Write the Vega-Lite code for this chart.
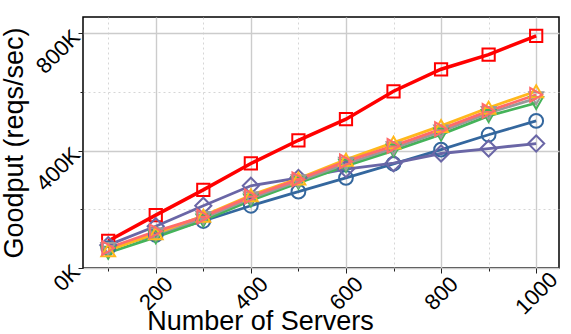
{
  "$schema": "https://vega.github.io/schema/vega-lite/v6.json",
  "width": 476,
  "height": 251,
  "autosize": {"type": "none"},
  "padding": {"left": 83, "top": 17, "right": 12, "bottom": 66},
  "background": "white",
  "config": {
    "font": "Liberation Sans",
    "view": {"stroke": "black", "strokeWidth": 1.5}
  },
  "data": {"values": [
    {"s": "A", "x": 100, "y": 92000}, {"s": "A", "x": 200, "y": 180000}, {"s": "A", "x": 300, "y": 266000}, {"s": "A", "x": 400, "y": 356000}, {"s": "A", "x": 500, "y": 435000},
    {"s": "A", "x": 600, "y": 507000}, {"s": "A", "x": 700, "y": 602000}, {"s": "A", "x": 800, "y": 677000}, {"s": "A", "x": 900, "y": 727000}, {"s": "A", "x": 1000, "y": 791000},
    {"s": "B", "x": 100, "y": 68000}, {"s": "B", "x": 200, "y": 113000}, {"s": "B", "x": 300, "y": 160000}, {"s": "B", "x": 400, "y": 212000}, {"s": "B", "x": 500, "y": 260000},
    {"s": "B", "x": 600, "y": 307000}, {"s": "B", "x": 700, "y": 355000}, {"s": "B", "x": 800, "y": 403000}, {"s": "B", "x": 900, "y": 454000}, {"s": "B", "x": 1000, "y": 501000},
    {"s": "C", "x": 100, "y": 78000}, {"s": "C", "x": 200, "y": 142000}, {"s": "C", "x": 300, "y": 212000}, {"s": "C", "x": 400, "y": 280000}, {"s": "C", "x": 500, "y": 307000},
    {"s": "C", "x": 600, "y": 337000}, {"s": "C", "x": 700, "y": 357000}, {"s": "C", "x": 800, "y": 390000}, {"s": "C", "x": 900, "y": 407000}, {"s": "C", "x": 1000, "y": 424000},
    {"s": "D", "x": 100, "y": 52000}, {"s": "D", "x": 200, "y": 105000}, {"s": "D", "x": 300, "y": 162000}, {"s": "D", "x": 400, "y": 230000}, {"s": "D", "x": 500, "y": 290000},
    {"s": "D", "x": 600, "y": 348000}, {"s": "D", "x": 700, "y": 400000}, {"s": "D", "x": 800, "y": 455000}, {"s": "D", "x": 900, "y": 518000}, {"s": "D", "x": 1000, "y": 562000},
    {"s": "E", "x": 100, "y": 65000}, {"s": "E", "x": 200, "y": 115000}, {"s": "E", "x": 300, "y": 170000}, {"s": "E", "x": 400, "y": 238000}, {"s": "E", "x": 500, "y": 296000},
    {"s": "E", "x": 600, "y": 355000}, {"s": "E", "x": 700, "y": 408000}, {"s": "E", "x": 800, "y": 465000}, {"s": "E", "x": 900, "y": 528000}, {"s": "E", "x": 1000, "y": 578000},
    {"s": "F", "x": 100, "y": 60000}, {"s": "F", "x": 200, "y": 118000}, {"s": "F", "x": 300, "y": 178000}, {"s": "F", "x": 400, "y": 248000}, {"s": "F", "x": 500, "y": 305000},
    {"s": "F", "x": 600, "y": 369000}, {"s": "F", "x": 700, "y": 427000}, {"s": "F", "x": 800, "y": 484000}, {"s": "F", "x": 900, "y": 546000}, {"s": "F", "x": 1000, "y": 602000},
    {"s": "G", "x": 100, "y": 68000}, {"s": "G", "x": 200, "y": 125000}, {"s": "G", "x": 300, "y": 175000}, {"s": "G", "x": 400, "y": 244000}, {"s": "G", "x": 500, "y": 302000},
    {"s": "G", "x": 600, "y": 363000}, {"s": "G", "x": 700, "y": 416000}, {"s": "G", "x": 800, "y": 473000}, {"s": "G", "x": 900, "y": 535000}, {"s": "G", "x": 1000, "y": 590000}
  ]},
  "encoding": {
    "x": {
      "field": "x", "type": "quantitative",
      "scale": {"domain": [47, 1048], "nice": false, "zero": false},
      "axis": {
        "title": "Number of Servers",
        "titleFontSize": 27, "titleFontWeight": "normal", "titleColor": "black",
        "titleX": 177, "titleAlign": "center", "titleAnchor": null,
        "titleY": 61, "titleBaseline": "alphabetic",
        "values": [100, 200, 300, 400, 500, 600, 700, 800, 900, 1000],
        "format": "d",
        "labelExpr": "datum.value % 200 === 0 ? datum.label : ''",
        "labelFontSize": 22, "labelColor": "black", "labelAngle": -45,
        "labelAlign": "center", "labelBaseline": "middle", "labelPadding": 20,
        "labelOverlap": false, "labelFlush": false,
        "domain": false,
        "tickColor": "#222222", "tickWidth": 1,
        "tickSize": {"condition": {"test": "datum.value % 200 !== 0", "value": 3}, "value": 5},
        "grid": true, "gridColor": "#cccccc",
        "gridWidth": {"condition": {"test": "datum.value % 200 !== 0", "value": 0.8}, "value": 1.4},
        "gridDash": {"condition": {"test": "datum.value % 200 !== 0", "value": [2, 3]}, "value": []}
      }
    },
    "y": {
      "field": "y", "type": "quantitative",
      "scale": {"domain": [0, 855000], "nice": false, "zero": true},
      "axis": {
        "title": "Goodput (reqs/sec)",
        "titleFontSize": 27, "titleFontWeight": "normal", "titleColor": "black",
        "titleX": -61, "titleBaseline": "alphabetic",
        "values": [0, 200000, 400000, 600000, 800000],
        "labelExpr": "datum.value % 400000 === 0 ? (datum.value / 1000) + 'K' : ''",
        "labelFontSize": 22, "labelColor": "black", "labelAngle": -45,
        "labelAlign": "right", "labelBaseline": "middle", "labelPadding": 2,
        "labelOverlap": false, "labelFlush": false,
        "domain": false,
        "tickColor": "#222222", "tickWidth": 1,
        "tickSize": {"condition": {"test": "datum.value % 400000 !== 0", "value": 3}, "value": 5},
        "grid": true, "gridColor": "#cccccc",
        "gridWidth": {"condition": {"test": "datum.value % 400000 !== 0", "value": 0.8}, "value": 1.4},
        "gridDash": {"condition": {"test": "datum.value % 400000 !== 0", "value": [2, 3]}, "value": []}
      }
    },
    "color": {
      "field": "s", "type": "nominal",
      "scale": {
        "domain": ["A", "B", "C", "D", "E", "F", "G"],
        "range": ["#ff0000", "#34679e", "#6a66a6", "#45b35a", "#9a9a9a", "#ffb81c", "#ff6b6b"]
      },
      "legend": null
    }
  },
  "layer": [
    {
      "mark": {"type": "line"},
      "encoding": {
        "strokeWidth": {"condition": {"test": "datum.s === 'A'", "value": 3.5}, "value": 2.8}
      }
    },
    {
      "mark": {"type": "point", "filled": false, "strokeWidth": 2, "opacity": 1},
      "encoding": {
        "shape": {
          "field": "s", "type": "nominal",
          "scale": {
            "domain": ["A", "B", "C", "D", "E", "F", "G"],
            "range": ["square", "circle", "diamond", "triangle-down", "triangle-down", "triangle-up", "triangle-right"]
          },
          "legend": null
        },
        "size": {"condition": [
          {"test": "datum.s === 'A'", "value": 150},
          {"test": "datum.s === 'C'", "value": 260}
        ], "value": 190}
      }
    }
  ]
}
